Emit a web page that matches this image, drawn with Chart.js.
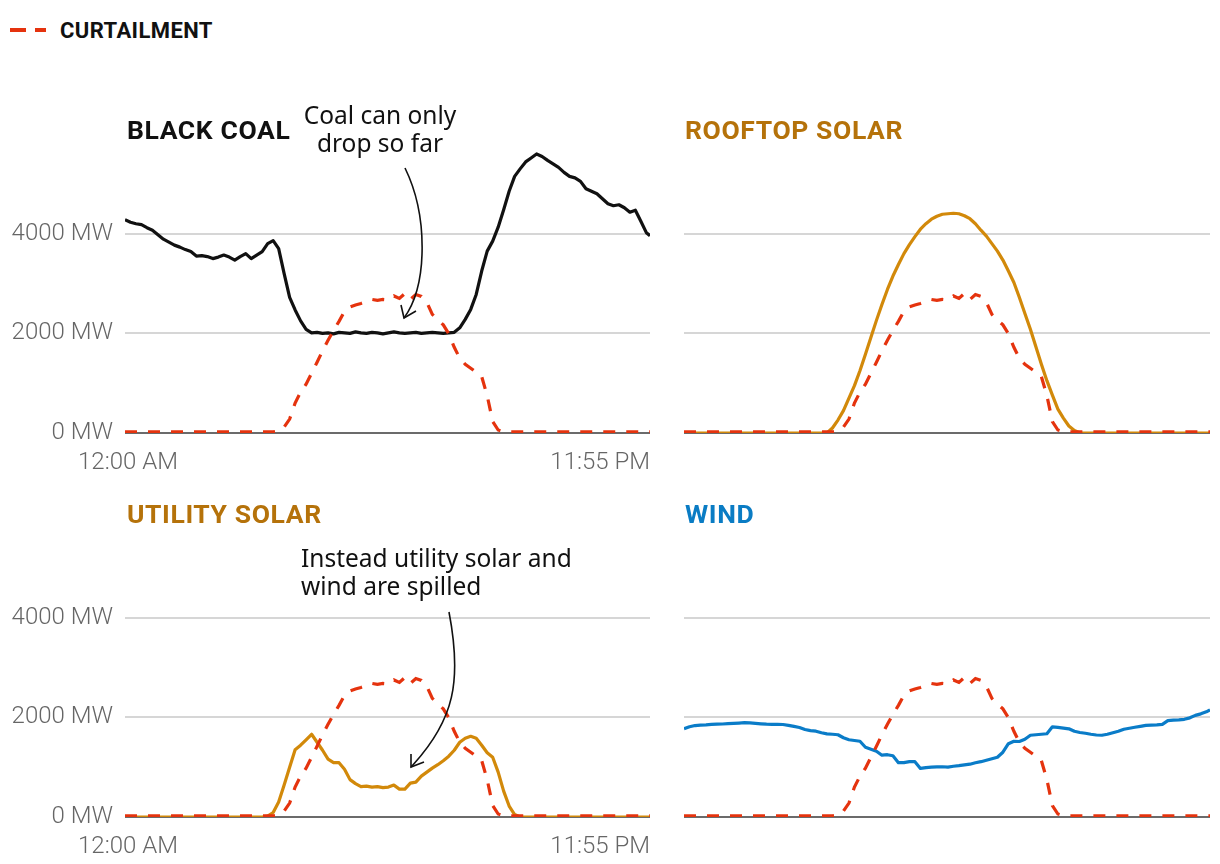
<!DOCTYPE html>
<html><head><meta charset="utf-8">
<script src="https://cdn.jsdelivr.net/npm/chart.js@4"></script>
<style>
html,body{margin:0;padding:0;background:#fff}
body{width:1220px;height:864px;position:relative;overflow:hidden;font-family:Roboto,"Noto Sans",sans-serif}
.pnl{position:absolute}
.title{position:absolute;font-family:Roboto,sans-serif;font-weight:700;font-size:26.5px;line-height:26px;white-space:nowrap;letter-spacing:0.6px}
.note{position:absolute;font-family:"Noto Sans",sans-serif;font-size:24.5px;line-height:27.5px;color:#111;white-space:nowrap}
#legend{position:absolute;left:10px;top:17px;height:26px;display:flex;align-items:center}
#legend span{font-family:Roboto,sans-serif;font-weight:700;font-size:22px;color:#111;margin-left:14px;letter-spacing:0.4px}
svg.ov{position:absolute;left:0;top:0;pointer-events:none}
</style>
</head>
<body>
<div id="legend"><svg width="36" height="8"><line x1="0" y1="4" x2="36" y2="4" stroke="#e5330e" stroke-width="4" stroke-dasharray="16 9"/></svg><span>CURTAILMENT</span></div>

<div class="pnl" id="p1" style="left:0;top:100px;width:660px;height:370px"><canvas id="c1"></canvas></div>
<div class="pnl" id="p2" style="left:660px;top:100px;width:560px;height:370px"><canvas id="c2"></canvas></div>
<div class="pnl" id="p3" style="left:0;top:484px;width:660px;height:370px"><canvas id="c3"></canvas></div>
<div class="pnl" id="p4" style="left:660px;top:484px;width:560px;height:370px"><canvas id="c4"></canvas></div>

<div class="title" style="left:127px;top:117px;color:#111">BLACK COAL</div>
<div class="title" style="left:685px;top:117px;color:#b5720a">ROOFTOP SOLAR</div>
<div class="title" style="left:127px;top:501px;color:#b5720a">UTILITY SOLAR</div>
<div class="title" style="left:685px;top:501px;color:#0a7cc4">WIND</div>

<div class="note" style="left:270px;top:101px;width:220px;text-align:center">Coal can only<br>drop so far</div>
<div class="note" style="left:301px;top:544px">Instead utility solar and<br>wind are spilled</div>

<svg class="ov" width="1220" height="864">
  <path d="M405 168 C 428 215, 428 285, 404 318" fill="none" stroke="#111" stroke-width="1.6"/>
  <path d="M401 305 L404 318 L416 311" fill="none" stroke="#111" stroke-width="1.6"/>
  <path d="M449 612 C 462 680, 455 720, 411 767" fill="none" stroke="#111" stroke-width="1.6"/>
  <path d="M411 754 L411 767 L424 762" fill="none" stroke="#111" stroke-width="1.6"/>
</svg>

<script>
// ---- data (MW, every 15 minutes from 12:00 AM, last point 11:55 PM) ----
const times = Array.from({length: 96}, (_, i) => i * 15).concat([1435]);
const xTickLabels = ['12:00 AM', '11:55 PM'];
const yTickValues = [0, 2000, 4000];

const curtailment = [
  25,25,25,25,25,25,25,25,25,25,25,25,25,25,25,25,25,25,25,25,25,25,25,25,25,25,25,25,40,
  120,280,600,820,980,1200,1420,1650,1860,2060,
  2240,2440,2530,2570,2600,2640,2680,2660,2680,2670,
  2750,2700,2800,2680,2780,2740,2620,2380,2270,2170,
  1990,1720,1500,1380,1300,1220,1130,750,230,60,
  25,25,25,25,25,25,25,25,25,25,25,25,25,25,25,25,25,25,25,25,25,25,25,25,25,25,25,
  25
];
const blackCoal = [
  4280,4230,4200,4180,4120,4070,3980,3890,3830,3770,
  3730,3680,3640,3550,3560,3540,3500,3530,3570,3530,
  3470,3540,3600,3500,3570,3640,3800,3860,3700,3200,
  2720,2470,2250,2080,2010,
  2020,2000,2010,1990,2020,2010,2000,2030,2010,2000,2020,2010,1990,2010,2030,2010,2000,2010,2020,2000,2010,2020,2010,2000,2010,2020,
  2110,2280,2480,2780,3250,3650,3850,4130,4480,4850,
  5150,5300,5440,5520,5600,5550,5470,5400,5330,5230,
  5150,5120,5050,4900,4850,4800,4700,4600,4560,4580,
  4520,4430,4470,4250,4020,
  3960
];
const rooftopSolar = [
  0,0,0,0,0,0,0,0,0,0,0,0,0,0,0,0,0,0,0,0,0,0,0,0,0,0,0,
  100,260,450,700,950,1250,1580,1920,2260,2580,
  2880,3150,3380,3600,3780,3940,4090,4200,4290,4350,
  4390,4400,4410,4400,4360,4300,4200,4070,3950,3800,
  3650,3470,3250,3020,2720,2400,2080,1730,1380,1050,
  760,480,300,140,50,
  0,0,0,0,0,0,0,0,0,0,0,0,0,0,0,0,0,0,0,0,0,0,0,0,
  0
];
const utilitySolar = [
  0,0,0,0,0,0,0,0,0,0,0,0,0,0,0,0,0,0,0,0,0,0,0,0,0,0,
  20,90,300,640,1000,1350,1440,1550,1660,1500,
  1340,1160,1090,1090,960,750,670,610,620,600,
  610,590,600,640,560,560,680,700,820,900,
  980,1050,1130,1220,1340,1500,1580,1620,1580,1440,
  1290,1200,900,520,220,50,
  0,0,0,0,0,0,0,0,0,0,0,0,0,0,0,0,0,0,0,0,0,0,0,0,
  0
];
const wind = [
  1770,1810,1835,1845,1850,1858,1862,1866,1872,1878,
  1885,1892,1890,1880,1870,1862,1860,1858,1856,1840,
  1818,1795,1755,1732,1722,1690,1668,1660,1650,1590,
  1550,1535,1520,1400,1360,1320,1240,1250,1230,1090,
  1090,1110,1110,975,990,1000,1005,1008,1000,1018,
  1030,1045,1060,1088,1110,1140,1170,1200,1300,1470,
  1520,1515,1560,1640,1650,1660,1670,1810,1800,1785,
  1770,1720,1695,1680,1660,1645,1640,1660,1690,1720,
  1760,1780,1800,1820,1840,1845,1850,1860,1935,1945,
  1950,1960,1990,2040,2070,2110,
  2150
];

// ---- styling ----
const RED = '#e5330e', BLACK = '#111111', GOLD = '#d2890a', BLUE = '#0a7cc8';

const pts = arr => arr.map((v, i) => ({x: times[i], y: v}));

const xLabelPlugin = {
  id: 'xLabelPlugin',
  afterDraw(chart, args, opts) {
    if (!opts.show) return;
    const {ctx, chartArea, scales} = chart;
    const x = scales.x;
    ctx.save();
    ctx.font = '300 24px Roboto';
    ctx.fillStyle = '#666';
    ctx.textBaseline = 'middle';
    ctx.textAlign = 'center';
    ctx.fillText(xTickLabels[0], x.getPixelForValue(times[0]) + 3, chartArea.bottom + 30);
    ctx.textAlign = 'right';
    ctx.fillText(xTickLabels[1], x.getPixelForValue(times[times.length - 1]), chartArea.bottom + 30);
    ctx.restore();
  }
};

function makeChart(id, mainData, mainColor, showLabels, axisWidth) {
  return new Chart(document.getElementById(id), {
    type: 'line',
    data: {
      datasets: [
        {data: pts(curtailment), borderColor: RED, borderWidth: 3.2, borderDash: [12, 11], pointRadius: 0, tension: 0, order: 0},
        {data: pts(mainData), borderColor: mainColor, borderWidth: 3.2, pointRadius: 0, tension: 0, order: 1, borderJoinStyle: 'round'}
      ]
    },
    options: {
      responsive: true,
      maintainAspectRatio: false,
      animation: false,
      events: [],
      layout: {padding: {top: 34, right: 10, bottom: 37, left: 0}},
      plugins: {legend: {display: false}, tooltip: {enabled: false}, xLabelPlugin: {show: showLabels}},
      scales: {
        x: {type: 'linear', min: 0, max: 1435, display: false},
        y: {
          min: 0, max: 6000,
          afterBuildTicks: s => { s.ticks = yTickValues.map(v => ({value: v})); },
          afterFit: s => { s.width = axisWidth; },
          border: {display: false},
          grid: {
            drawTicks: false,
            color: c => c.tick && c.tick.value === 0 ? '#6b6b6b' : '#d6d6d6',
            lineWidth: 2
          },
          ticks: {
            display: showLabels,
            padding: 12,
            color: '#666',
            font: {family: 'Roboto', size: 24, weight: '300'},
            callback: v => v + ' MW'
          }
        }
      }
    },
    plugins: [xLabelPlugin]
  });
}

makeChart('c1', blackCoal, BLACK, true, 125);
makeChart('c2', rooftopSolar, GOLD, false, 24);
makeChart('c3', utilitySolar, GOLD, true, 125);
makeChart('c4', wind, BLUE, false, 24);
</script>
</body></html>
